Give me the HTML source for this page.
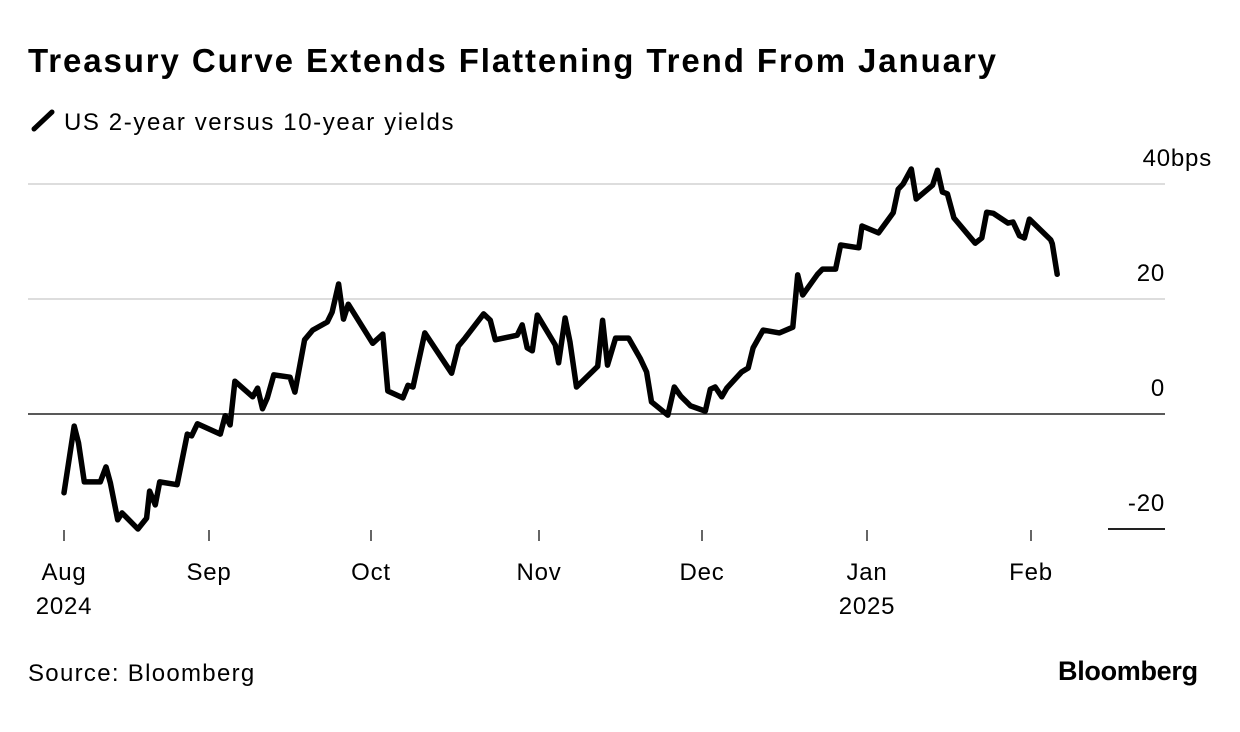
<!DOCTYPE html>
<html><head><meta charset="utf-8"><style>
body{margin:0;background:#fff;font-family:"Liberation Sans",sans-serif;}
#wrap{position:relative;width:1240px;height:732px;overflow:hidden;}
.t{position:absolute;color:#000;white-space:nowrap;}
svg text{letter-spacing:0.8px;}
</style></head><body>
<div id="wrap">
<div class="t" style="left:28px;top:42px;font-size:33px;font-weight:bold;letter-spacing:1.9px;">Treasury Curve Extends Flattening Trend From January</div>
<div class="t" style="left:30px;top:109px;font-size:24px;letter-spacing:1.6px;"><svg width="28" height="24" style="vertical-align:-3px;margin-right:6px"><line x1="4" y1="20" x2="22" y2="3" stroke="#000" stroke-width="5" stroke-linecap="round"/></svg>US 2-year versus 10-year yields</div>
<svg id="plot" width="1240" height="732" style="position:absolute;left:0;top:0"></svg>
<div class="t" style="left:28px;top:660px;font-size:24px;letter-spacing:1.3px;">Source: Bloomberg</div>
<div class="t" style="left:1058px;top:656px;font-size:27px;font-weight:bold;letter-spacing:-0.3px;">Bloomberg</div>
</div>
<script>
const monthLabels=["Aug","Sep","Oct","Nov","Dec","Jan","Feb"];
const yearLabels=["2024","","","","","2025",""];
const yTicks=[40,20,0,-20];
const xMonths=[0,0.07,0.10,0.14,0.25,0.29,0.32,0.37,0.40,0.51,0.57,0.59,0.63,0.66,0.78,0.85,0.88,0.92,1.07,1.10,1.13,1.16,1.27,1.30,1.33,1.36,1.40,1.50,1.53,1.59,1.64,1.73,1.76,1.80,1.83,1.86,2.01,2.07,2.10,2.19,2.22,2.25,2.32,2.48,2.52,2.56,2.67,2.71,2.74,2.87,2.90,2.93,2.96,2.99,3.10,3.12,3.16,3.19,3.23,3.36,3.39,3.42,3.47,3.55,3.62,3.66,3.69,3.79,3.83,3.87,3.93,4.02,4.05,4.08,4.12,4.15,4.24,4.28,4.31,4.37,4.47,4.55,4.58,4.61,4.70,4.73,4.81,4.84,4.95,4.97,5.07,5.16,5.19,5.22,5.27,5.30,5.40,5.43,5.46,5.49,5.53,5.66,5.70,5.73,5.77,5.86,5.89,5.93,5.96,5.99,6.12,6.13,6.16];
const spreadValues=[-13.7,-2.1,-5.0,-11.8,-11.8,-9.2,-12.0,-18.4,-17.2,-20.0,-18.1,-13.4,-15.8,-11.8,-12.3,-3.5,-3.8,-1.7,-3.5,-0.3,-1.9,5.7,3.0,4.5,0.9,2.8,6.8,6.4,3.8,12.9,14.6,16.0,17.7,22.6,16.5,19.1,12.3,13.9,4.0,2.8,5.0,4.7,14.1,7.1,11.8,13.2,17.4,16.3,12.9,13.7,15.5,11.5,11.0,17.2,12.0,8.9,16.7,12.5,4.7,8.3,16.3,8.5,13.2,13.2,9.7,7.3,2.1,-0.2,4.7,3.1,1.4,0.5,4.3,4.7,3.0,4.5,7.3,8.0,11.5,14.6,14.1,15.1,24.2,20.7,24.3,25.2,25.2,29.4,28.9,32.7,31.5,35.0,39.1,40.0,42.6,37.4,39.8,42.4,38.6,38.3,34.1,29.7,30.6,35.1,34.9,33.2,33.4,31.0,30.6,33.9,30.3,29.6,24.3];
const NS="http://www.w3.org/2000/svg";
const svg=document.getElementById('plot');
const tickPx=[64,209,371,539,702,867,1031,1195];
function xScale(m){const i=Math.min(Math.floor(m),6);return tickPx[i]+(m-i)*(tickPx[i+1]-tickPx[i]);}
function yScale(v){return 414-v*5.75;}
function mk(tag,attrs){const e=document.createElementNS(NS,tag);for(const k in attrs)e.setAttribute(k,attrs[k]);svg.appendChild(e);return e;}
yTicks.forEach(v=>{
  const y=yScale(v);
  const g=mk('line',{x1:v===-20?1108:28,x2:1165,y1:y,y2:y,stroke:v===0?'#222':'#ddd','stroke-width':v===0?1.5:2});
  if(v===-20)g.setAttribute('stroke','#222');
  
  
  const t=mk('text',{x:1165,y:y-18,'text-anchor':'end','font-size':24,'font-family':'Liberation Sans, sans-serif'});
  t.textContent=v===40?'40bps':String(v);
  if(v===40)t.setAttribute('x',1212);
  
  
});
monthLabels.forEach((lab,i)=>{
  const x=xScale(i);
  const l=mk('line',{x1:x,x2:x,y1:530,y2:541,stroke:'#333','stroke-width':1.5});
  
  
  const t=mk('text',{x:x,y:580,'text-anchor':'middle','font-size':24,'font-family':'Liberation Sans, sans-serif'});
  t.textContent=lab;
  
  
  if(yearLabels[i]){
    const y=mk('text',{x:x,y:614,'text-anchor':'middle','font-size':24,'font-family':'Liberation Sans, sans-serif'});
    y.textContent=yearLabels[i];
    
    
  }
});
const d=xMonths.map((m,i)=>(i?'L':'M')+xScale(m).toFixed(1)+','+yScale(spreadValues[i]).toFixed(1)).join(' ');
const p=mk('path',{d:d,fill:'none',stroke:'#000','stroke-width':5.5,'stroke-linejoin':'round','stroke-linecap':'round'});


</script>
</body></html>
